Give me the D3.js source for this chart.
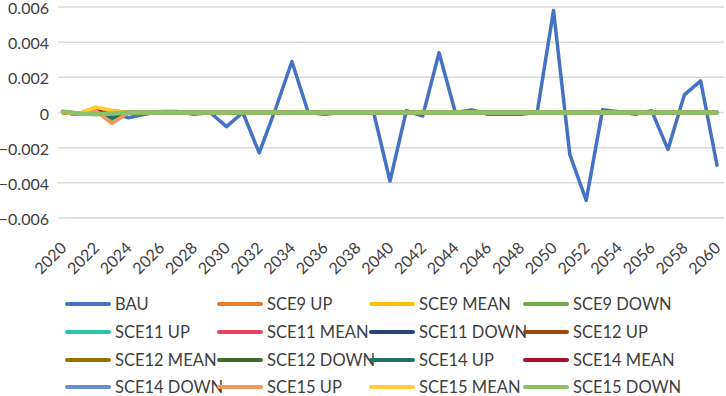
<!DOCTYPE html>
<html>
  <head>
    <meta charset="UTF-8" />
    <script src="https://d3js.org/d3.v7.min.js"></script>
    <style>
      body { margin: 0; background: #fff; }
      text { font-family: Lato, "Open Sans", sans-serif; fill: #404040; }
    </style>
  </head>
  <body>
    <div id="my_dataviz"></div>
    <script>
      // years on the category axis
      var years = [2020, 2021, 2022, 2023, 2024, 2025, 2026, 2027, 2028, 2029,
        2030, 2031, 2032, 2033, 2034, 2035, 2036, 2037, 2038, 2039,
        2040, 2041, 2042, 2043, 2044, 2045, 2046, 2047, 2048, 2049,
        2050, 2051, 2052, 2053, 2054, 2055, 2056, 2057, 2058, 2059, 2060];
      var yearTicks = [2020, 2022, 2024, 2026, 2028, 2030, 2032, 2034, 2036, 2038, 2040,
        2042, 2044, 2046, 2048, 2050, 2052, 2054, 2056, 2058, 2060];
      var yTicks = [-0.006, -0.004, -0.002, 0, 0.002, 0.004, 0.006];

      var bau = [0, -0.0001, -0.0001, 0, -0.0003, -0.0001, 0.00005, 0.00005, -0.0001, 0,
        -0.0008, 0, -0.0023, 0.0002, 0.0029, 0, -0.0001, 0, 0, 0,
        -0.0039, 0.0001, -0.0002, 0.0034, 0, 0.00015, -0.0001, -0.0001, -0.0001, 0,
        0.0058, -0.0024, -0.005, 0.00015, 0.00005, -0.0001, 0.0001, -0.0021, 0.001, 0.0018, -0.003];

      // scenario runs are flat after 2025
      var tail = [0, 0, 0, 0, 0, 0, 0, 0, 0, 0, 0, 0, 0, 0, 0, 0, 0, 0, 0, 0,
        0, 0, 0, 0, 0, 0, 0, 0, 0, 0, 0, 0, 0, 0, 0];
      var sce9Up = [0, -0.0001, 0.0001, -0.0006, 0, 0].concat(tail);
      var sce9Mean = [0, -0.00005, 0.0003, 0.0001, 0, 0].concat(tail);
      var sce9Down = [0.00005, -0.00005, -0.0001, -0.00005, 0, 0].concat(tail);
      var sce11Up = [0, -0.0001, 0.0001, -0.0004, 0, 0].concat(tail);
      var sce11Mean = [0, -0.00005, 0.0002, 0.0001, 0, 0].concat(tail);
      var sce11Down = [0.00005, -0.00005, -0.0001, -0.00005, 0, 0].concat(tail);
      var sce12Up = [0, -0.0001, 0.0001, -0.0003, 0, 0].concat(tail);
      var sce12Mean = [0, -0.00005, 0.0002, 0.00005, 0, 0].concat(tail);
      var sce12Down = [0.00005, -0.00005, -0.0001, -0.00005, 0, 0].concat(tail);
      var sce14Up = [0, -0.0001, 0.0001, -0.0003, 0, 0].concat(tail);
      var sce14Mean = [0, -0.00005, 0.0002, 0.00005, 0, 0].concat(tail);
      var sce14Down = [0.00005, -0.00005, -0.0001, -0.00005, 0, 0].concat(tail);
      var sce15Up = [0, -0.0001, 0.0001, -0.0006, 0, 0].concat(tail);
      var sce15Mean = [0, -0.00005, 0.0003, 0.0001, 0, 0].concat(tail);
      var sce15Down = [0.00005, -0.00005, -0.0001, -0.00005, 0, 0].concat(tail);

      var seriesNames = ["BAU", "SCE9 UP", "SCE9 MEAN", "SCE9 DOWN",
        "SCE11 UP", "SCE11 MEAN", "SCE11 DOWN", "SCE12 UP",
        "SCE12 MEAN", "SCE12 DOWN", "SCE14 UP", "SCE14 MEAN",
        "SCE14 DOWN", "SCE15 UP", "SCE15 MEAN", "SCE15 DOWN"];
      var seriesValues = [bau, sce9Up, sce9Mean, sce9Down, sce11Up, sce11Mean, sce11Down,
        sce12Up, sce12Mean, sce12Down, sce14Up, sce14Mean, sce14Down, sce15Up, sce15Mean, sce15Down];
      var colors = ["#4472c4", "#ed7d31", "#ffc000", "#70ad47", "#2cc2ae", "#e8435e",
        "#264478", "#9e480e", "#997300", "#43682b", "#1b7266", "#a3102c",
        "#698ed0", "#f1975a", "#ffcd33", "#8cc168"];

      var W = 726, H = 396;
      var svg = d3.select("#my_dataviz").append("svg")
        .attr("width", W).attr("height", H);

      var xScale = d3.scalePoint().domain(years).range([63, 717]);
      var yScale = d3.scaleLinear().domain([-0.006, 0.006]).range([218, 7]);

      // gridlines
      svg.append("g").selectAll("line").data(yTicks).join("line")
        .attr("x1", 58).attr("x2", 724)
        .attr("y1", d => yScale(d)).attr("y2", d => yScale(d))
        .attr("stroke", "#d9d9d9").attr("stroke-width", 1.5);

      // y axis labels
      var yAxis = d3.axisLeft(yScale).tickValues(yTicks)
        .tickFormat(d => d === 0 ? "0" : d3.format(".3f")(d)).tickSize(0).tickPadding(0);
      var yG = svg.append("g").attr("transform", "translate(49,1.5)").call(yAxis);
      yG.select(".domain").remove();
      yG.selectAll("text").attr("font-size", 16).style("fill", "#404040")
        .style("font-family", "Lato, sans-serif");

      // x axis labels, rotated
      var xAxis = d3.axisBottom(xScale).tickValues(yearTicks).tickSize(0).tickPadding(0);
      var xG = svg.append("g").attr("transform", "translate(0,249)").call(xAxis);
      xG.select(".domain").remove();
      xG.selectAll("text")
        .attr("font-size", 16).style("fill", "#404040").style("font-family", "Lato, sans-serif")
        .attr("text-anchor", "end").attr("dy", 0).attr("y", 0)
        .attr("transform", "translate(4,0) rotate(-45)");

      var line = d3.line()
        .x((d, i) => xScale(years[i]))
        .y(d => yScale(d));

      svg.append("g").selectAll("path").data(seriesValues).join("path")
        .attr("d", d => line(d))
        .attr("fill", "none")
        .attr("stroke", (d, i) => colors[i])
        .attr("stroke-width", (d, i) => i === seriesValues.length - 1 ? 4.5 : 3.5)
        .attr("stroke-linejoin", "round")
        .attr("stroke-linecap", "round");

      // legend, 4 columns
      var colX = [67, 219, 371, 525];
      var rowY = [304, 332, 360, 387];
      var leg = svg.append("g").selectAll("g").data(seriesNames).join("g")
        .attr("transform", (d, i) => "translate(" + colX[i % 4] + "," + rowY[Math.floor(i / 4)] + ")");
      leg.append("line")
        .attr("x1", 0).attr("x2", 42).attr("y1", 0).attr("y2", 0)
        .attr("stroke", (d, i) => colors[i]).attr("stroke-width", 4)
        .attr("stroke-linecap", "round");
      leg.append("text")
        .attr("x", 48).attr("y", 0).attr("dy", "0.36em")
        .attr("font-size", 16.5)
        .text(d => d);
    </script>
  </body>
</html>
